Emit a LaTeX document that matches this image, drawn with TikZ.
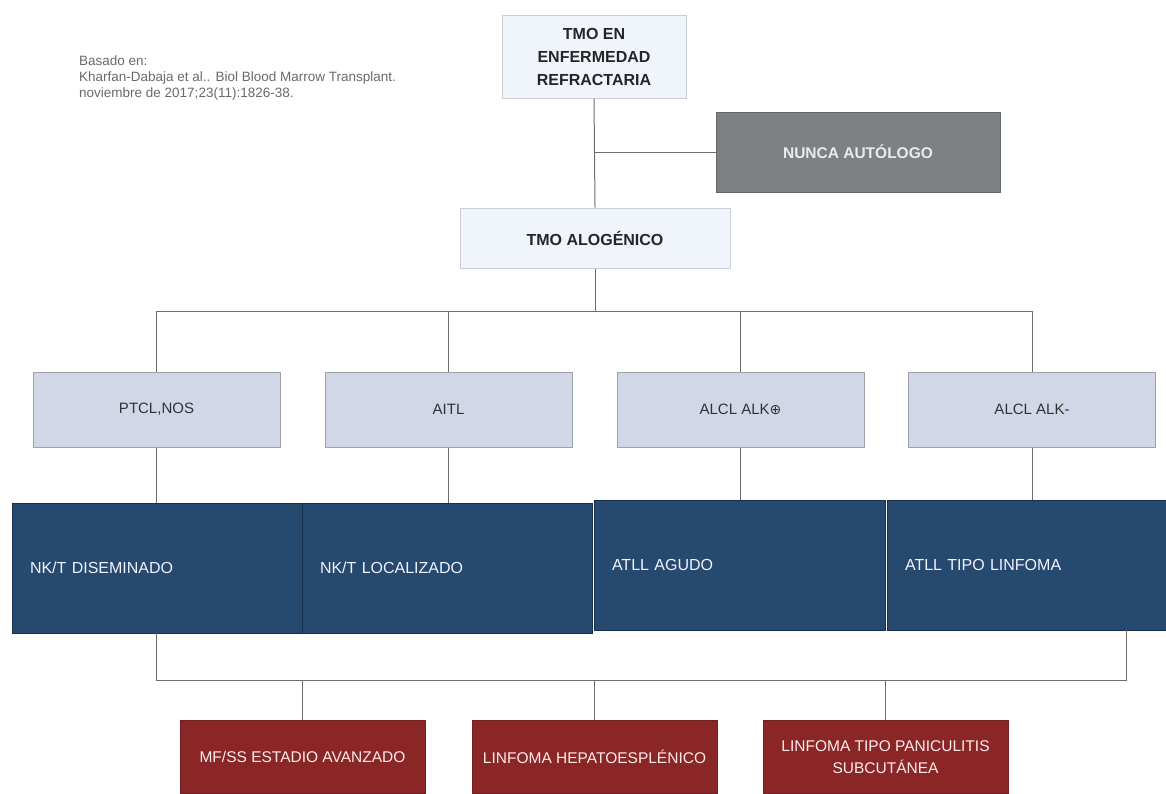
\documentclass[tikz,border=0pt]{standalone}
\usepackage{fontspec}
\setmainfont{Liberation Sans}
\newfontfamily\dejavu{DejaVu Sans}
\definecolor{lightbox}{HTML}{F0F5FC}
\definecolor{lightborder}{HTML}{C9CED6}
\definecolor{graybox}{HTML}{7D8183}
\definecolor{lavbox}{HTML}{D1D7E7}
\definecolor{lavborder}{HTML}{9CA2AE}
\definecolor{navybox}{HTML}{25496F}
\definecolor{navyborder}{HTML}{172E4C}
\definecolor{redbox}{HTML}{8A2626}
\definecolor{linecol}{HTML}{6E6E6E}
\definecolor{citecol}{HTML}{6A6A6A}
\tikzset{
  basebox/.style={rectangle, inner sep=2pt, align=center},
  topbox/.style={basebox, fill=lightbox, draw=lightborder, line width=1pt, font=\fontsize{16}{23}\selectfont\bfseries, text=black!85},
  graystyle/.style={basebox, fill=graybox, draw=graybox!80!black, line width=1pt, font=\fontsize{15.5}{18}\selectfont\bfseries, text=white!92!black},
  lavstyle/.style={basebox, fill=lavbox, draw=lavborder, line width=1pt, minimum width=247pt, minimum height=75pt, font=\fontsize{15}{18}\selectfont, text=black!80},
  navystyle/.style={rectangle, fill=navybox, draw=navyborder, line width=1pt, minimum height=130pt, inner xsep=18pt, align=left, font=\fontsize{16}{19}\selectfont, text=white!95!blue},
  redstyle/.style={basebox, fill=redbox, draw=redbox!85!black, line width=1pt, minimum width=245pt, minimum height=73pt, font=\fontsize{15.5}{22}\selectfont, text=white!92!red},
  conn/.style={draw=linecol, line width=1pt}
}
\begin{document}
\begin{tikzpicture}[x=1pt,y=-1pt]
\useasboundingbox[fill=white] (0,0) rectangle (1166,793);
% citation
\node[anchor=north west, align=left, font=\fontsize{13.5}{16}\selectfont, text=citecol, inner sep=0pt] (cite) at (79,56)
  {Basado en:\\Kharfan-Dabaja et al.. Biol Blood Marrow Transplant.\\noviembre de 2017;23(11):1826-38.};
% top
\node[topbox, minimum width=184pt, minimum height=83pt] (top) at (594,56.5) {TMO EN\\ENFERMEDAD\\REFRACTARIA};
\node[graystyle, minimum width=284pt, minimum height=80pt] (nunca) at (858,152) {NUNCA AUTÓLOGO};
\node[topbox, minimum width=270pt, minimum height=60pt] (alo) at (595,238) {TMO ALOGÉNICO};
% second row
\node[lavstyle] (ptcl) at (156.5,409.5) {PTCL,NOS};
\node[lavstyle] (aitl) at (448.5,409.5) {AITL};
\node[lavstyle] (alkp) at (740.5,409.5) {ALCL ALK{\dejavu\fontsize{14}{18}\selectfont ⊕}};
\node[lavstyle] (alkm) at (1032,409.5) {ALCL ALK-};
% navy row
\node[navystyle, minimum width=290pt, text width=254pt] (nkd) at (157,568) {NK/T DISEMINADO};
\node[navystyle, minimum width=290pt, text width=254pt] (nkl) at (447,568) {NK/T LOCALIZADO};
\node[navystyle, minimum width=291pt, text width=255pt] (atlla) at (739.5,565) {ATLL AGUDO};
\node[navystyle, minimum width=281pt, text width=245pt] (atllt) at (1027.5,565) {ATLL TIPO LINFOMA};
% red row
\node[redstyle] (mfss) at (302.5,757) {MF/SS ESTADIO AVANZADO};
\node[redstyle] (hepa) at (594.5,757) {LINFOMA HEPATOESPLÉNICO};
\node[redstyle] (pani) at (885.5,757) {LINFOMA TIPO PANICULITIS\\SUBCUTÁNEA};
% connectors top
\draw[conn] (top.south) -- (alo.north);
\draw[conn] (top.south |- nunca.west) -- (nunca.west);
\coordinate (busA) at (595,311);
\draw[conn] (alo.south) -- (busA);
\draw[conn] (ptcl.north) -- (ptcl.north |- busA) -- (alkm.north |- busA) -- (alkm.north);
\draw[conn] (aitl.north |- busA) -- (aitl.north);
\draw[conn] (alkp.north |- busA) -- (alkp.north);
% second row to navy
\draw[conn] (ptcl.south) -- (ptcl.south |- nkd.north);
\draw[conn] (aitl.south) -- (aitl.south |- nkl.north);
\draw[conn] (alkp.south) -- (alkp.south |- atlla.north);
\draw[conn] (alkm.south) -- (alkm.south |- atllt.north);
% lower bus
\coordinate (busB) at (595,680);
\coordinate (lb) at (156.5,633);
\coordinate (rb) at (1126,630);
\draw[conn] (lb) -- (lb |- busB) -- (rb |- busB) -- (rb);
\draw[conn] (mfss.north |- busB) -- (mfss.north);
\draw[conn] (hepa.north |- busB) -- (hepa.north);
\draw[conn] (pani.north |- busB) -- (pani.north);
\end{tikzpicture}
\end{document}
